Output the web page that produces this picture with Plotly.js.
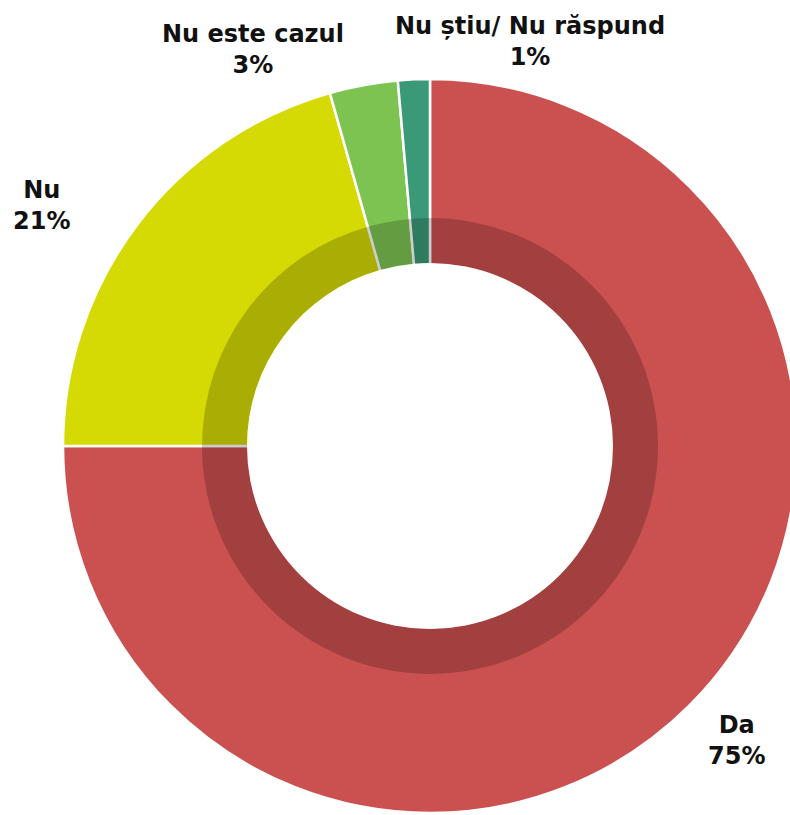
<!DOCTYPE html>
<html>
<head>
<meta charset="utf-8">
<script src="https://cdn.plot.ly/plotly-3.0.1.min.js"></script>
<style>
html,body{margin:0;padding:0;overflow:hidden;background:#fff;width:790px;height:815px;}
#chart{width:820px;height:815px;}
</style>
</head>
<body>
<div id="chart"></div>
<script>
const categories = ["Da", "Nu", "Nu este cazul", "Nu știu/ Nu răspund"];
const values = [75.0, 20.6, 3.0, 1.4];
const colors = ["#CB5050", "#D5DA05", "#7DC352", "#3A9A78"];

const W = 820, H = 815;
const cx = 430, cy = 446, rOuter = 367, rRing = 228, rHole = 183;
const px = x => x / W;
const py = y => 1 - y / H;
const dom = r => ({x: [px(cx - r), px(cx + r)], y: [py(cy + r), py(cy - r)]});

// label anchor positions (pixels)
const labelPos = [[736, 740], [41, 205], [253, 50], [530, 41]];

const common = {
  type: "pie", values: values, labels: categories,
  sort: false, direction: "clockwise", rotation: 0,
  textinfo: "none", showlegend: false
};

const outer = Object.assign({}, common, {
  marker: {colors: colors, line: {color: "#ffffff", width: 2.5}},
  hole: (rHole - 4) / rOuter,
  hoverinfo: "label+percent",
  domain: dom(rOuter)
});

const ring = Object.assign({}, common, {
  marker: {colors: values.map(() => "rgba(0,0,0,0.2)"), line: {width: 0}},
  hole: rHole / rRing,
  hoverinfo: "skip",
  domain: dom(rRing)
});

const cover = Object.assign({}, common, {
  marker: {colors: values.map(() => "#ffffff"), line: {color: "#ffffff", width: 0}},
  hoverinfo: "skip",
  domain: dom(rHole)
});

const annotations = categories.map((c, i) => ({
  text: c + "<br>" + Math.round(values[i]) + "%",
  x: px(labelPos[i][0]),
  y: py(labelPos[i][1]),
  xref: "paper", yref: "paper",
  xanchor: "center", yanchor: "middle",
  showarrow: false,
  font: {family: "DejaVu Sans", size: 24, color: "#111111", weight: "bold"}
}));

const layout = {
  width: W, height: H,
  margin: {l: 0, r: 0, t: 0, b: 0},
  paper_bgcolor: "#ffffff",
  annotations: annotations,
  showlegend: false
};

Plotly.newPlot("chart", [outer, ring, cover], layout, {displayModeBar: false, staticPlot: true});
</script>
</body>
</html>
